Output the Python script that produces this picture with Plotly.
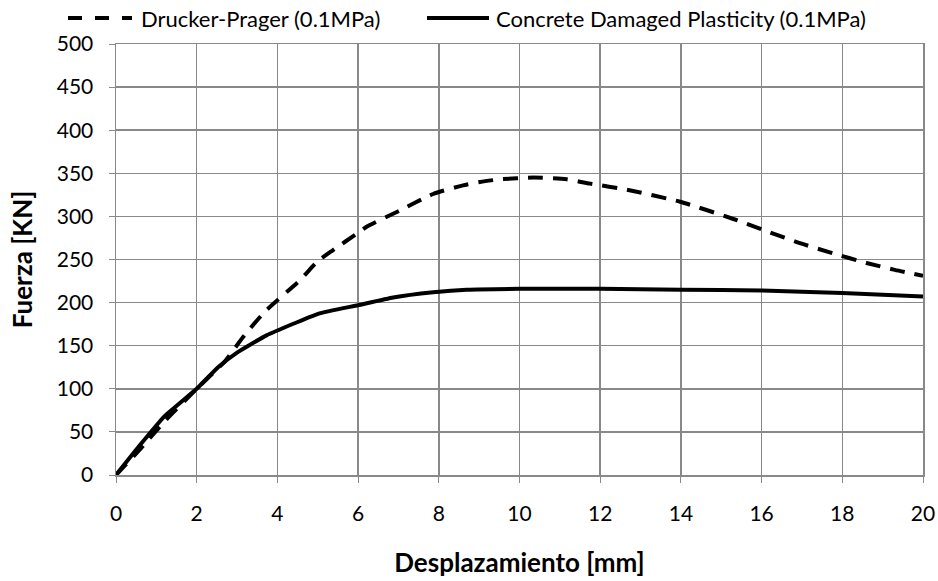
import plotly.graph_objects as go

# Drucker-Prager (0.1MPa)
dp_x = [0, 0.6, 1.2, 2.0, 2.7, 3.15, 3.7, 4.56, 5.0, 5.38, 6.0, 6.21, 7.04, 7.86, 8.6, 9.02, 9.52, 10.34, 11.17, 11.75, 12.66, 13.98, 15.3, 16.12, 16.95, 17.78, 18.6, 19.3, 20.0]
dp_y = [0, 30, 62, 100, 132, 160, 190, 226, 248, 261, 281, 288, 307, 326, 336, 340, 343, 345, 343, 338, 331, 317, 297, 283, 269, 257, 246, 238, 231]

# Concrete Damaged Plasticity (0.1MPa)
cdp_x = [0, 0.6, 1.2, 2.0, 2.53, 3.0, 3.73, 5.01, 6.0, 6.87, 7.86, 8.69, 10.0, 12.0, 14.0, 16.0, 18.0, 20.0]
cdp_y = [0, 35, 68, 100, 125, 142, 162, 187, 197, 206, 212, 215, 216, 216, 215, 214, 211, 207]

series_names = ["Drucker-Prager (0.1MPa)", "Concrete Damaged Plasticity (0.1MPa)"]

x_ticks = [0, 2, 4, 6, 8, 10, 12, 14, 16, 18, 20]
y_ticks = [0, 50, 100, 150, 200, 250, 300, 350, 400, 450, 500]

FONT = "Lato"
GRID = "#898989"
DASH = "15px,10px"
LW = 4

W, H = 938, 581
L, R, T, B = 116, 15, 44, 106
PW, PH = W - L - R, H - T - B


def px_x(p):
    # screen pixel -> paper coordinate
    return (p - L) / PW


def px_y(p):
    return (H - B - p) / PH


fig = go.Figure()
fig.add_trace(go.Scatter(x=dp_x, y=dp_y, mode="lines", name=series_names[0], showlegend=False,
                         line=dict(color="black", width=LW, dash=DASH, shape="spline", smoothing=0.6)))
fig.add_trace(go.Scatter(x=cdp_x, y=cdp_y, mode="lines", name=series_names[1], showlegend=False,
                         line=dict(color="black", width=LW, shape="spline", smoothing=0.4)))

# custom legend (sample lines + labels) above the plot
leg_y = px_y(18)
fig.add_shape(type="line", xref="paper", yref="paper", x0=px_x(68), x1=px_x(132), y0=leg_y, y1=leg_y,
              line=dict(color="black", width=LW, dash="14px,13px"))
fig.add_shape(type="line", xref="paper", yref="paper", x0=px_x(427), x1=px_x(489), y0=leg_y, y1=leg_y,
              line=dict(color="black", width=LW))
fig.add_annotation(xref="paper", yref="paper", x=px_x(139), y=px_y(19), xanchor="left", yanchor="middle",
                   text=series_names[0], showarrow=False, font=dict(family=FONT, size=22, color="black"))
fig.add_annotation(xref="paper", yref="paper", x=px_x(494), y=px_y(19), xanchor="left", yanchor="middle",
                   text=series_names[1], showarrow=False, font=dict(family=FONT, size=22, color="black"))

fig.update_layout(
    width=W, height=H,
    margin=dict(l=L, r=R, t=T, b=B, autoexpand=False),
    paper_bgcolor="white", plot_bgcolor="white",
    font=dict(family=FONT, size=21, color="black"),
    showlegend=False,
    hovermode=False,
    xaxis=dict(range=[0, 20], tickvals=x_ticks, ticktext=[str(v) for v in x_ticks],
               showgrid=True, gridcolor=GRID, gridwidth=1.5,
               showline=True, linecolor=GRID, linewidth=1.5, mirror=True,
               ticks="outside", ticklen=6, tickcolor=GRID, ticklabelstandoff=13,
               zeroline=False,
               title=dict(text="<b>Desplazamiento [mm]</b>", font=dict(family=FONT, size=26), standoff=30)),
    yaxis=dict(range=[0, 500], tickvals=y_ticks, ticktext=[str(v) for v in y_ticks],
               showgrid=True, gridcolor=GRID, gridwidth=1.5,
               showline=True, linecolor=GRID, linewidth=1.5, mirror=True,
               ticks="outside", ticklen=6, tickcolor=GRID, ticklabelstandoff=11,
               zeroline=False,
               title=dict(text="<b>Fuerza [KN]</b>", font=dict(family=FONT, size=26), standoff=16)),
)

fig.write_html("out.html",
               config={"displayModeBar": False, "staticPlot": True},
               post_script="document.body.style.margin='0px';document.body.style.overflow='hidden';")
